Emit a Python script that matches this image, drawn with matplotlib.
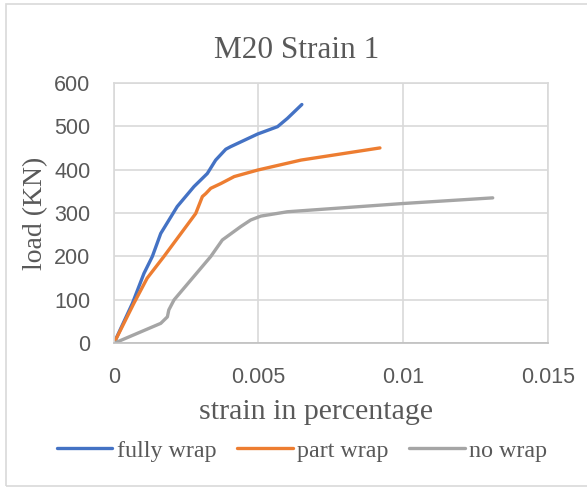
import matplotlib.pyplot as plt
from matplotlib.patches import Rectangle

# strain (fraction) vs load (KN)
fully_strain = [0, 0.00064, 0.00104, 0.00133, 0.00162, 0.00219, 0.00277, 0.00323,
                0.00352, 0.00387, 0.00404, 0.00497, 0.00566, 0.0060, 0.0065]
fully_load = [0, 92, 161, 200, 253, 315, 361, 391, 422, 447, 453, 482, 499, 518, 550]

part_strain = [0, 0.00069, 0.00115, 0.00173, 0.00283, 0.00306, 0.00318, 0.00335,
               0.0037, 0.00416, 0.00497, 0.00647, 0.0092]
part_load = [0, 92, 150, 200, 299, 338, 345, 357, 368, 384, 399, 422, 450]

no_strain = [0, 0.00162, 0.00185, 0.0019, 0.00208, 0.00335, 0.00375, 0.00439,
             0.00473, 0.00508, 0.00554, 0.0060, 0.0100, 0.0131]
no_load = [0, 46, 61, 77, 100, 200, 238, 269, 284, 293, 298, 303, 322, 335]

x_ticks = [0, 0.005, 0.01, 0.015]
x_tick_labels = ["0", "0.005", "0.01", "0.015"]
y_ticks = [0, 100, 200, 300, 400, 500, 600]

text_col = "#595959"
serif = "Liberation Serif"
sans = "Liberation Sans"

fig = plt.figure(figsize=(5.87, 4.87), dpi=100)
ax = fig.add_axes([0.194, 0.295, 0.739, 0.535])

ax.plot(fully_strain, fully_load, color="#4472C4", lw=2.4, label="fully wrap",
        solid_capstyle="round", solid_joinstyle="round")
ax.plot(part_strain, part_load, color="#ED7D31", lw=2.4, label="part wrap",
        solid_capstyle="round", solid_joinstyle="round")
ax.plot(no_strain, no_load, color="#A5A5A5", lw=2.4, label="no wrap",
        solid_capstyle="round", solid_joinstyle="round")

ax.set_xlim(0, 0.015)
ax.set_ylim(0, 600)
ax.set_xticks(x_ticks)
ax.set_xticklabels(x_tick_labels)
ax.set_yticks(y_ticks)
ax.tick_params(length=0, labelsize=15.5, labelcolor=text_col)
ax.tick_params(axis="x", pad=17)
ax.tick_params(axis="y", pad=17)
for lab in ax.get_xticklabels() + ax.get_yticklabels():
    lab.set_family(sans)

ax.grid(True, color="#D9D9D9", lw=1.2)
ax.set_axisbelow(True)
for side in ["top", "right", "left"]:
    ax.spines[side].set_color("#D9D9D9")
    ax.spines[side].set_linewidth(1.2)
ax.spines["bottom"].set_color("#BFBFBF")
ax.spines["bottom"].set_linewidth(1.2)

ax.set_title("M20 Strain 1", family=serif, fontsize=22.5, color=text_col, pad=18,
             x=0.422)
ax.set_xlabel("strain in percentage", family=serif, fontsize=21.5, color=text_col)
ax.set_ylabel("load (KN)", family=serif, fontsize=20, color=text_col)
ax.xaxis.set_label_coords(0.465, -0.215)
ax.yaxis.set_label_coords(-0.152, 0.5)

leg = fig.legend(loc="center", bbox_to_anchor=(0.515, 0.074), ncol=3,
                 frameon=False, prop={"family": serif, "size": 17.3},
                 handlelength=2.3, handletextpad=0.2, columnspacing=0.85,
                 borderpad=0, borderaxespad=0)
for t in leg.get_texts():
    t.set_color(text_col)

# outer chart border
fig.patches.append(Rectangle((0.010, 0.002), 0.995, 0.990, transform=fig.transFigure,
                             fill=False, edgecolor="#D9D9D9", lw=1.2))

fig.savefig("out.png", dpi=100)
